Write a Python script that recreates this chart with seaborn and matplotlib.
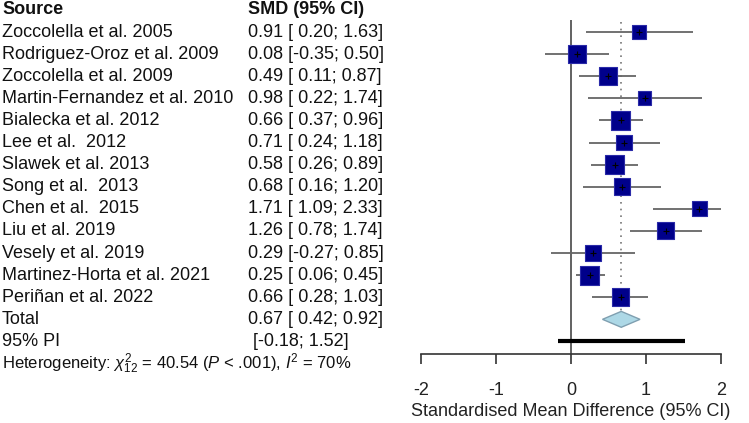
import pandas as pd
import seaborn as sns
import matplotlib.pyplot as plt
from matplotlib.patches import Polygon
from matplotlib.transforms import blended_transform_factory

# study-level data
studies = ["Zoccolella et al. 2005", "Rodriguez-Oroz et al. 2009",
           "Zoccolella et al. 2009", "Martin-Fernandez et al. 2010",
           "Bialecka et al. 2012", "Lee et al.  2012", "Slawek et al. 2013",
           "Song et al.  2013", "Chen et al.  2015", "Liu et al. 2019",
           "Vesely et al. 2019", "Martinez-Horta et al. 2021",
           "Periñan et al. 2022"]
smd = [0.91, 0.08, 0.49, 0.98, 0.66, 0.71, 0.58, 0.68, 1.71, 1.26, 0.29,
       0.25, 0.66]
ci_low = [0.20, -0.35, 0.11, 0.22, 0.37, 0.24, 0.26, 0.16, 1.09, 0.78,
          -0.27, 0.06, 0.28]
ci_high = [1.63, 0.50, 0.87, 1.74, 0.96, 1.18, 0.89, 1.20, 2.33, 1.74,
           0.85, 0.45, 1.03]
# relative weights (%)
weights = [5.1, 8.8, 8.8, 5.1, 9.3, 6.8, 9.3, 7.8, 5.9, 7.8, 6.8, 9.8, 8.8]

total_smd, total_low, total_high = 0.67, 0.42, 0.92
pi_low, pi_high = -0.18, 1.52
heterogeneity = (r"Heterogeneity: $\chi^2_{12}$ = 40.54 ($P$ < .001), "
                 r"$I^2$ = 70%")
x_ticks = [-2, -1, 0, 1, 2]
x_label = "Standardised Mean Difference (95% CI)"

sns.set_theme(style="white")
plt.rcParams["font.family"] = ["Liberation Sans", "DejaVu Sans"]
plt.rcParams["mathtext.fontset"] = "custom"
plt.rcParams["mathtext.rm"] = "Liberation Sans"
plt.rcParams["mathtext.it"] = "Liberation Sans:italic"

df = pd.DataFrame({"study": studies, "smd": smd, "low": ci_low,
                   "high": ci_high, "weight": weights})
df["row"] = range(len(df))
n = len(df)
total_row = n
pi_row = n + 1
het_row = n + 2
axis_y = n + 1.57

fig = plt.figure(figsize=(7.49, 4.23), dpi=100)
ax = fig.add_axes([421 / 749, 0, 300 / 749, 1])
ax.set_facecolor("none")

# confidence intervals and study boxes
ax.hlines(df["row"], df["low"], df["high"], color="#666666", lw=1.3,
          zorder=2)
wmin, wmax = min(weights), max(weights)
sns.scatterplot(data=df, x="smd", y="row", size="weight",
                sizes=(19 * wmin, 19 * wmax), size_norm=(wmin, wmax),
                marker="s", color="#00008B", edgecolor="#2a2aa8",
                linewidth=0.8, legend=False, ax=ax, zorder=3)
ax.plot(df["smd"], df["row"], "+", color="black", ms=5, mew=0.8, zorder=4)

# reference lines
ax.vlines(0, -0.54, axis_y, color="#555555", lw=1.3, zorder=1)
ax.vlines(total_smd, -0.45, total_row - 0.24, color="#777777", lw=1.2,
          linestyles=(0, (1, 3)), zorder=1)

# pooled diamond and prediction interval
h = 0.36
ax.add_patch(Polygon([(total_low, total_row), (total_smd, total_row - h),
                      (total_high, total_row), (total_smd, total_row + h)],
                     closed=True, facecolor="#ADD8E6", edgecolor="#7f9fb0",
                     lw=1, zorder=3))
ax.hlines(pi_row, pi_low, pi_high, color="black", lw=3, zorder=3)

ax.set_xlim(-2, 2)
ax.set_ylim(n + 4.69, -1.448)
for side in ["top", "left", "right"]:
    ax.spines[side].set_visible(False)
ax.spines["bottom"].set_position(("data", axis_y))
ax.spines["bottom"].set_bounds(-2, 2)
ax.spines["bottom"].set_color("#333333")
ax.spines["bottom"].set_linewidth(1.2)
ax.set_xticks(x_ticks)
ax.set_xticklabels([str(t) for t in x_ticks])
ax.tick_params(axis="x", bottom=True, direction="out", length=7, width=1.2,
               color="#333333", labelsize=13, pad=13, labelcolor="#222222")
ax.set_yticks([])
ax.set_xlabel(x_label, fontsize=13, color="#222222", labelpad=3)
ax.set_ylabel("")

# left-hand text columns
tr = blended_transform_factory(fig.transFigure, ax.transData)
x_src, x_val = 2 / 749, 248 / 749
txt = dict(transform=tr, fontsize=13, va="center", ha="left",
           color="#111111")
ax.text(x_src, -1, "Source", fontweight="bold", **txt)
ax.text(x_val, -1, "SMD (95% CI)", fontweight="bold", **txt)
for _, r in df.iterrows():
    ax.text(x_src, r["row"], r["study"], **txt)
    ax.text(x_val, r["row"],
            f"{r['smd']:.2f} [{r['low']:5.2f}; {r['high']:.2f}]", **txt)
ax.text(x_src, total_row, "Total", **txt)
ax.text(x_val, total_row,
        f"{total_smd:.2f} [{total_low:5.2f}; {total_high:.2f}]", **txt)
ax.text(x_src, pi_row, "95% PI", **txt)
ax.text(x_val, pi_row, f" [{pi_low:.2f}; {pi_high:.2f}]", **txt)
ax.text(x_src, het_row, heterogeneity, transform=tr, fontsize=12,
        va="center", ha="left", color="#111111")

fig.savefig("out.png", dpi=100)
